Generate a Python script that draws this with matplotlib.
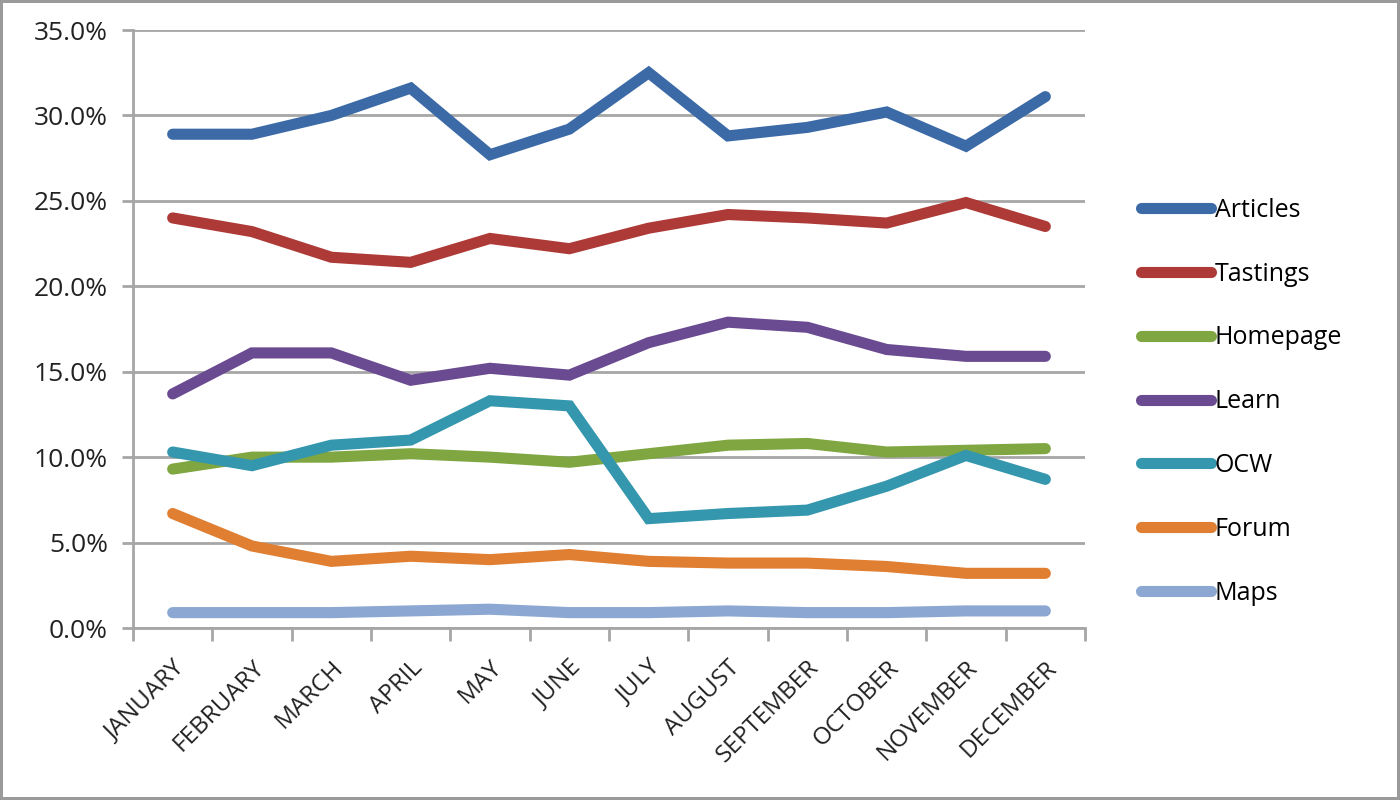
import matplotlib
matplotlib.use("Agg")
import matplotlib.pyplot as plt
from matplotlib.ticker import FuncFormatter, MultipleLocator
import numpy as np

months = ["JANUARY", "FEBRUARY", "MARCH", "APRIL", "MAY", "JUNE", "JULY",
          "AUGUST", "SEPTEMBER", "OCTOBER", "NOVEMBER", "DECEMBER"]

articles = [28.9, 28.9, 30.0, 31.6, 27.7, 29.2, 32.5, 28.8, 29.3, 30.2, 28.2, 31.1]
tastings = [24.0, 23.2, 21.7, 21.4, 22.8, 22.2, 23.4, 24.2, 24.0, 23.7, 24.9, 23.5]
homepage = [9.3, 10.0, 10.0, 10.2, 10.0, 9.7, 10.2, 10.7, 10.8, 10.3, 10.4, 10.5]
learn = [13.7, 16.1, 16.1, 14.5, 15.2, 14.8, 16.7, 17.9, 17.6, 16.3, 15.9, 15.9]
ocw = [10.3, 9.5, 10.7, 11.0, 13.3, 13.0, 6.4, 6.7, 6.9, 8.3, 10.1, 8.7]
forum = [6.7, 4.8, 3.9, 4.2, 4.0, 4.3, 3.9, 3.8, 3.8, 3.6, 3.2, 3.2]
maps = [0.9, 0.9, 0.9, 1.0, 1.1, 0.9, 0.9, 1.0, 0.9, 0.9, 1.0, 1.0]

series = [
    ("Articles", articles, "#3b6aa6"),
    ("Tastings", tastings, "#ad3a36"),
    ("Homepage", homepage, "#7fa640"),
    ("Learn", learn, "#6a4a90"),
    ("OCW", ocw, "#3597ad"),
    ("Forum", forum, "#e07e31"),
    ("Maps", maps, "#8ca7d2"),
]

plt.rcParams["font.family"] = ["Open Sans", "DejaVu Sans"]

fig = plt.figure(figsize=(14, 8), dpi=100)
fig.patch.set_edgecolor("#9a9a9a")
fig.patch.set_linewidth(4)
ax = fig.add_axes([0.095, 0.215, 0.68, 0.7475])

x = np.arange(len(months))
for name, vals, color in series:
    ax.plot(x, vals, color=color, lw=8, label=name, solid_capstyle="round",
            solid_joinstyle="miter")

ax.set_xlim(-0.5, len(months) - 0.5)
ax.set_ylim(0, 35)
ax.yaxis.set_major_locator(MultipleLocator(5))
ax.yaxis.set_major_formatter(FuncFormatter(lambda v, _: f"{v:.1f}%"))
ax.grid(axis="y", color="#a6a6a6", lw=2)
ax.set_axisbelow(True)

ax.set_xticks(x)
ax.set_xticklabels(months, rotation=45, ha="right", rotation_mode="anchor",
                   fontsize=17.5, color="#222222")
ax.tick_params(axis="x", length=0, pad=20)
ax.set_xticks(np.arange(-0.5, len(months)), minor=True)
ax.tick_params(axis="x", which="minor", length=9, width=2, color="#a6a6a6", direction="out")
ax.tick_params(axis="y", labelsize=19, length=8, width=2, color="#a6a6a6",
               labelcolor="#222222", pad=10)

for side in ("top", "right"):
    ax.spines[side].set_visible(False)
for side in ("left", "bottom"):
    ax.spines[side].set_color("#a6a6a6")
    ax.spines[side].set_linewidth(2)

ax.legend(loc="upper left", bbox_to_anchor=(0.808, 0.765), bbox_transform=fig.transFigure,
          frameon=False, fontsize=18, handlelength=2.8, handletextpad=0.15,
          labelspacing=1.55, borderaxespad=0)

fig.savefig("out.png", dpi=100)
